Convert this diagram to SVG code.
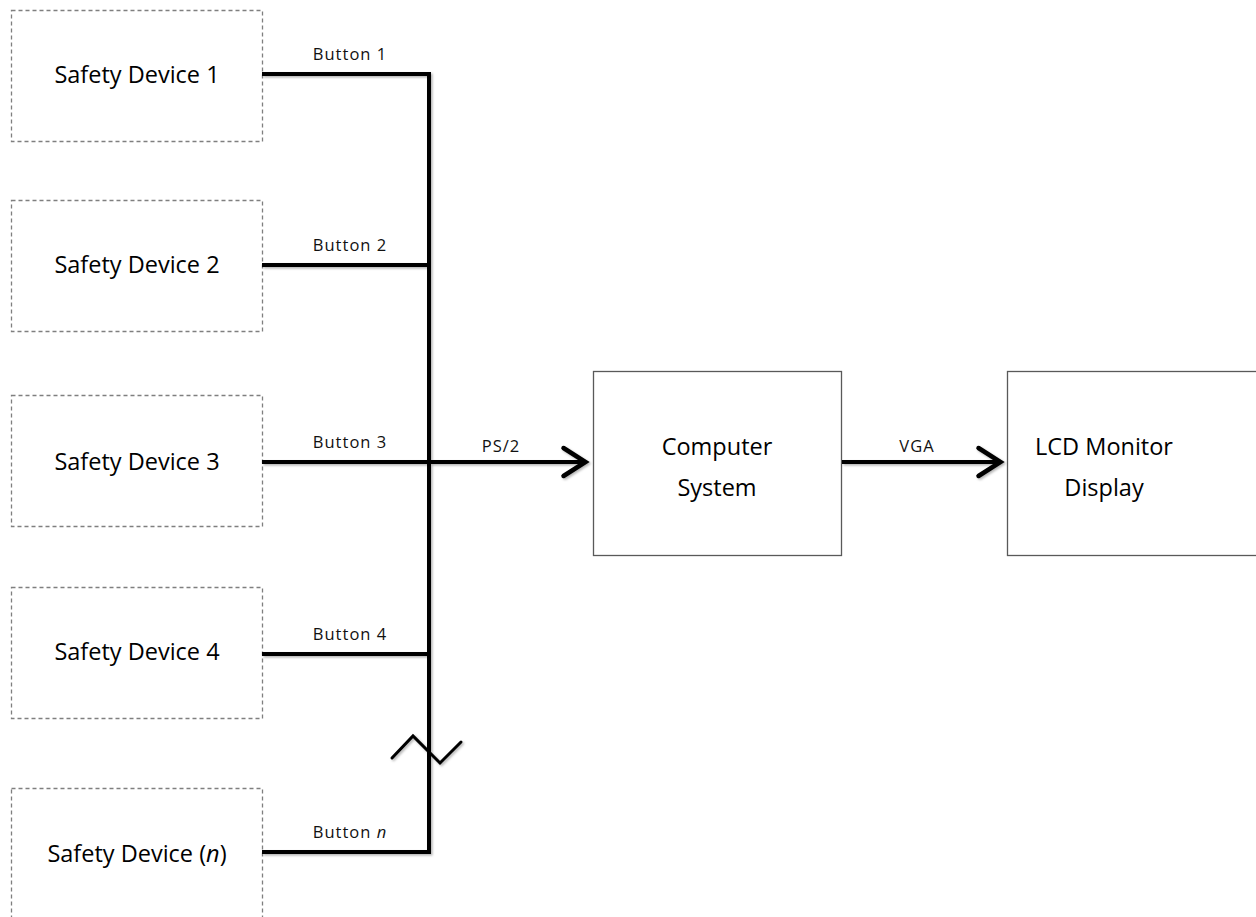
<svg xmlns="http://www.w3.org/2000/svg" width="1256" height="917" viewBox="0 0 1256 917">
  <style>
    .dev { fill: #fff; stroke: #7f7f7f; stroke-width: 1.3; stroke-dasharray: 4 3; }
    .blk { fill: #fff; stroke: #595959; stroke-width: 1.3; }
    .wire { fill: none; stroke: #000; stroke-width: 4; stroke-linejoin: miter; stroke-linecap: butt; }
    .big { font-family: "Open Sans", "Liberation Sans", sans-serif; font-size: 23.5px; fill: #000; text-anchor: middle; }
    .lbl { font-family: "Open Sans", "Liberation Sans", sans-serif; font-size: 16.5px; letter-spacing: 1px; fill: #111; text-anchor: middle; }
  </style>
  <defs>
    <filter id="shadow" x="-5%" y="-5%" width="110%" height="110%">
      <feDropShadow dx="1.5" dy="1.5" stdDeviation="1" flood-color="#000" flood-opacity="0.3"/>
    </filter>
    <marker id="arrow" markerWidth="8" markerHeight="10" refX="6.5" refY="5" orient="auto" markerUnits="userSpaceOnUse" viewBox="0 0 8 10" overflow="visible">
      <path d="M -16 -9 L 6 5 L -16 19" fill="none" stroke="#000" stroke-width="4.5" stroke-linecap="round" stroke-linejoin="miter"/>
    </marker>
  </defs>

  <rect width="1256" height="917" fill="#fff"/>

  <g id="device-1">
    <rect class="dev" x="11.5" y="10.5" width="251" height="131"/>
    <text class="big" x="137" y="83">Safety Device 1</text>
  </g>
  <g id="device-2">
    <rect class="dev" x="11.5" y="200.5" width="251" height="131"/>
    <text class="big" x="137" y="273">Safety Device 2</text>
  </g>
  <g id="device-3">
    <rect class="dev" x="11.5" y="395.5" width="251" height="131"/>
    <text class="big" x="137" y="470">Safety Device 3</text>
  </g>
  <g id="device-4">
    <rect class="dev" x="11.5" y="587.5" width="251" height="131"/>
    <text class="big" x="137" y="660">Safety Device 4</text>
  </g>
  <g id="device-n">
    <rect class="dev" x="11.5" y="788.5" width="251" height="140"/>
    <text class="big" x="137" y="862">Safety Device (<tspan font-style="italic">n</tspan>)</text>
  </g>

  <g id="computer">
    <rect class="blk" x="593.5" y="371.5" width="248" height="184"/>
    <text class="big" x="717" y="455">Computer</text>
    <text class="big" x="717" y="496">System</text>
  </g>
  <g id="monitor">
    <rect class="blk" x="1007.5" y="371.5" width="260" height="184"/>
    <text class="big" x="1104" y="455">LCD Monitor</text>
    <text class="big" x="1104" y="496">Display</text>
  </g>

  <g id="connectors" filter="url(#shadow)">
    <!-- bus with device taps -->
    <path class="wire" d="M 262 74 H 429 V 852 H 262"/>
    <path class="wire" d="M 262 265 H 429"/>
    <path class="wire" d="M 262 462 H 429"/>
    <path class="wire" d="M 262 654 H 429"/>
    <!-- break mark on the bus -->
    <path d="M 392 758 L 413 736 L 440 763 L 461 742" fill="none" stroke="#000" stroke-width="3" stroke-linecap="round"/>
    <!-- PS/2 and VGA links -->
    <path class="wire" d="M 429 462 H 586" marker-end="url(#arrow)"/>
    <path class="wire" d="M 842 462 H 1001" marker-end="url(#arrow)"/>
  </g>

  <g id="labels">
    <text class="lbl" x="350" y="60">Button 1</text>
    <text class="lbl" x="350" y="251">Button 2</text>
    <text class="lbl" x="350" y="448">Button 3</text>
    <text class="lbl" x="350" y="640">Button 4</text>
    <text class="lbl" x="350" y="838">Button <tspan font-style="italic">n</tspan></text>
    <text class="lbl" x="501" y="452">PS/2</text>
    <text class="lbl" x="917" y="452" letter-spacing="2.5">VGA</text>
  </g>
</svg>
